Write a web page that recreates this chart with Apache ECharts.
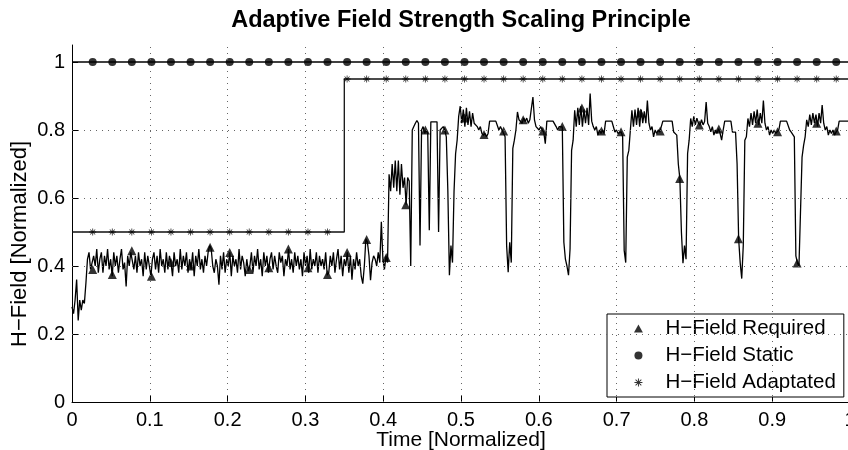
<!DOCTYPE html>
<html><head><meta charset="utf-8">
<script src="https://cdn.jsdelivr.net/npm/echarts@6/dist/echarts.min.js"></script>
<style>html,body{margin:0;padding:0;background:#fff}#c{width:848px;height:450px}</style>
</head><body><div id="c"></div>
<script>
const titleText = 'Adaptive Field Strength Scaling Principle';
const xName = 'Time [Normalized]';
const yName = 'H\u2212Field [Normalized]';
const seriesNames = ['H\u2212Field Required', 'H\u2212Field Static', 'H\u2212Field Adaptated'];
const xTicks = [0, 0.1, 0.2, 0.3, 0.4, 0.5, 0.6, 0.7, 0.8, 0.9, 1];
const yTicks = [0, 0.2, 0.4, 0.6, 0.8, 1];

// Required field, samples evenly spaced over time 0..1
const reqField = [
.28,.26,.30,.36,.24,.30,.27,.30,.29,.35,
.42,.44,.39,.39,.43,.40,.45,.38,.42,.44,
.38,.43,.40,.45,.39,.42,.37,.44,.40,.43,
.38,.42,.45,.39,.41,.34,.43,.40,.44,.445,
.39,.43,.38,.44,.40,.42,.37,.44,.39,.43,
.40,.37,.42,.44,.39,.43,.38,.45,.40,.42,
.38,.44,.39,.43,.41,.37,.44,.40,.42,.38,
.45,.39,.43,.40,.44,.38,.42,.39,.44,.37,
.43,.40,.45,.39,.42,.38,.43,.40,.44,.46,
.45,.40,.38,.42,.40,.345,.43,.39,.44,.38,
.42,.40,.44,.37,.43,.40,.42,.38,.45,.39,
.43,.41,.37,.42,.385,.40,.44,.38,.43,.40,
.45,.39,.42,.37,.44,.40,.43,.38,.42,.44,
.39,.43,.40,.38,.44,.41,.43,.37,.42,.40,
.45,.39,.42,.38,.44,.40,.43,.39,.42,.37,
.44,.40,.43,.38,.45,.39,.42,.40,.44,.38,
.43,.40,.42,.39,.44,.373,.38,.43,.40,.44,
.38,.42,.45,.39,.43,.37,.42,.40,.44,.38,
.43,.36,.42,.39,.44,.40,.42,.37,.348,.40,
.48,.47,.43,.358,.41,.43,.42,.40,.44,.41,
.53,.42,.39,.43,.41,.67,.62,.70,.63,.71,
.62,.71,.61,.70,.63,.66,.58,.66,.65,.40,
.80,.81,.82,.828,.82,.46,.80,.81,.79,.80,
.79,.505,.824,.824,.824,.824,.824,.50,.80,.80,
.81,.80,.78,.62,.373,.46,.41,.62,.73,.77,
.84,.87,.82,.86,.81,.865,.815,.855,.81,.85,
.82,.815,.81,.80,.81,.79,.784,.79,.78,.79,
.826,.826,.826,.826,.826,.826,.80,.81,.80,.80,
.78,.46,.382,.47,.41,.746,.77,.80,.853,.83,
.835,.82,.835,.825,.835,.82,.83,.83,.897,.83,
.81,.815,.80,.81,.80,.794,.76,.826,.826,.826,
.826,.826,.826,.81,.80,.81,.805,.809,.47,.42,
.40,.373,.45,.74,.77,.858,.81,.865,.815,.87,
.81,.86,.82,.865,.815,.907,.826,.81,.80,.81,
.785,.80,.79,.80,.79,.826,.826,.826,.826,.826,
.826,.794,.80,.79,.795,.795,.78,.446,.41,.72,
.74,.80,.858,.81,.86,.815,.865,.81,.86,.82,
.855,.82,.887,.82,.80,.81,.78,.80,.79,.80,
.794,.81,.826,.826,.826,.826,.826,.826,.826,.794,
.79,.785,.70,.657,.50,.408,.46,.42,.731,.77,
.834,.81,.84,.815,.835,.82,.814,.83,.815,.825,
.882,.82,.81,.795,.81,.785,.80,.79,.804,.79,
.77,.80,.826,.826,.826,.826,.826,.794,.795,.794,
.70,.48,.41,.363,.46,.77,.78,.834,.81,.85,
.815,.855,.82,.86,.815,.85,.82,.887,.82,.80,
.81,.785,.80,.79,.80,.79,.794,.80,.826,.826,
.826,.826,.826,.826,.80,.794,.795,.78,.43,.409,
.40,.397,.72,.755,.78,.83,.81,.845,.815,.85,
.82,.845,.81,.85,.82,.873,.82,.80,.81,.785,
.80,.79,.80,.785,.794,.80,.826,.826,.826,.826,
.826,.826,.826,.826
];

const staticTime = [0, 1];
const staticField = [1, 1];
const adaptTime = [0, 0.35, 0.35, 1];
const adaptField = [0.5, 0.5, 0.95, 0.95];

const markerTime = [0.0266,0.0518,0.0769,0.1021,0.1272,0.1524,0.1775,0.2027,0.2278,0.2530,
0.2781,0.3033,0.3284,0.3536,0.3787,0.4039,0.4290,0.4542,0.4793,0.5045,
0.5296,0.5548,0.5799,0.6051,0.6302,0.6554,0.6805,0.7057,0.7308,0.7560,
0.7811,0.8063,0.8314,0.8566,0.8817,0.9069,0.9320,0.9572,0.9823];
const reqMarkerField = [0.39,0.375,0.445,0.37,0.41,0.40,0.455,0.44,0.39,0.395,
0.45,0.395,0.375,0.44,0.478,0.425,0.58,0.80,0.80,0.835,
0.787,0.797,0.83,0.797,0.81,0.865,0.797,0.795,0.85,0.797,
0.657,0.815,0.803,0.48,0.82,0.795,0.409,0.82,0.797];
const staticMarkerField = [1,1,1,1,1,1,1,1,1,1,1,1,1,1,1,1,1,1,1,1,1,1,1,1,1,1,1,1,1,1,1,1,1,1,1,1,1,1,1];
const adaptMarkerField = [0.5,0.5,0.5,0.5,0.5,0.5,0.5,0.5,0.5,0.5,0.5,0.5,0.5,
0.95,0.95,0.95,0.95,0.95,0.95,0.95,0.95,0.95,0.95,0.95,0.95,0.95,0.95,0.95,0.95,0.95,0.95,0.95,0.95,0.95,0.95,0.95,0.95,0.95,0.95];

const FONT = '"Liberation Sans", Arial, Helvetica, sans-serif';
const starPath = 'path://M4.4 0L5.6 0L5.6 10L4.4 10ZM0 4.4L10 4.4L10 5.6L0 5.6ZM1 1.8L1.8 1L9 8.2L8.2 9ZM8.2 1L9 1.8L1.8 9L1 8.2Z';
const triPath = 'path://M5 0L10 9L0 9Z';

const zip = (xs, ys) => xs.map((x, i) => [x, ys[i]]);
const reqData = reqField.map((v, i) => [i / (reqField.length - 1), v]);

const gridMarks = []
  .concat(yTicks.filter(v => v > 0 && v < 1).map(v => ({ yAxis: v })))
  .concat(xTicks.filter(v => v > 0 && v <= 1).map(v => ({ xAxis: v })));

const chart = echarts.init(document.getElementById('c'), null, { renderer: 'canvas' });
chart.setOption({
  animation: false,
  backgroundColor: '#fff',
  textStyle: { fontFamily: FONT },
  title: {
    text: titleText, left: 456, top: 4, textAlign: 'center',
    textStyle: { fontFamily: FONT, fontWeight: 'bold', fontSize: 23.5, color: '#000' }
  },
  graphic: [{
    type: 'text', x: 20, y: 244, rotation: Math.PI / 2, silent: true,
    style: { text: yName, font: '22px ' + FONT, fill: '#000', align: 'center', verticalAlign: 'middle' }
  }],
  grid: { left: 72, top: 45, width: 778, height: 357, containLabel: false, outerBoundsMode: 'none' },
  xAxis: {
    type: 'value', min: 0, max: 1, interval: 0.1,
    name: xName, nameLocation: 'middle', nameGap: 28, nameMoveOverlap: false,
    nameTextStyle: { fontSize: 21, color: '#000', fontFamily: FONT, verticalAlign: 'top' },
    axisLine: { show: true, onZero: false, lineStyle: { color: '#000', width: 1 } },
    axisTick: { show: true, inside: true, length: 6, lineStyle: { color: '#000' } },
    axisLabel: { fontSize: 20, color: '#000', margin: 8, fontFamily: FONT, hideOverlap: false },
    splitLine: { show: false }
  },
  yAxis: {
    type: 'value', min: 0, max: 1.05, interval: 0.2,
    axisLine: { show: true, onZero: false, lineStyle: { color: '#000', width: 1 } },
    axisTick: { show: true, inside: true, length: 6, customValues: yTicks, lineStyle: { color: '#000' } },
    axisLabel: { fontSize: 20, color: '#000', margin: 7, fontFamily: FONT, customValues: yTicks,
      formatter: v => (yTicks.indexOf(v) >= 0 ? String(v) : '') },
    splitLine: { show: false }
  },
  legend: {
    data: seriesNames, orient: 'vertical', left: 607, top: 314,
    padding: [4, 8, 4, 27], itemWidth: 44, itemHeight: 8, itemGap: 6,
    backgroundColor: '#fff', borderColor: '#000', borderWidth: 1, borderRadius: 0,
    selectedMode: false,
    textStyle: { fontSize: 20.5, color: '#000', lineHeight: 20, fontFamily: FONT }
  },
  series: [
    {
      type: 'line', data: zip(staticTime, staticField), showSymbol: false, z: 1,
      lineStyle: { color: '#000', width: 1.5 }, silent: true,
      markLine: {
        silent: true, symbol: ['none', 'none'], label: { show: false },
        lineStyle: { color: '#666', width: 1, type: [1, 5] },
        emphasis: { disabled: true },
        data: gridMarks
      }
    },
    {
      type: 'line', data: zip(adaptTime, adaptField), showSymbol: false, z: 2,
      lineStyle: { color: '#111', width: 1.3 }, silent: true
    },
    {
      type: 'line', data: reqData, showSymbol: false, z: 3,
      lineStyle: { color: '#000', width: 1.3 }, silent: true
    },
    {
      name: seriesNames[0], type: 'scatter', data: zip(markerTime, reqMarkerField), z: 4,
      symbol: triPath, symbolSize: 9, itemStyle: { color: '#000' }, silent: true
    },
    {
      name: seriesNames[1], type: 'scatter', data: zip(markerTime, staticMarkerField), z: 4,
      symbol: 'circle', symbolSize: 8, itemStyle: { color: '#000' }, silent: true
    },
    {
      name: seriesNames[2], type: 'scatter', data: zip(markerTime, adaptMarkerField), z: 4,
      symbol: starPath, symbolSize: 7, itemStyle: { color: '#000' }, silent: true
    }
  ]
});
</script>
</body></html>
